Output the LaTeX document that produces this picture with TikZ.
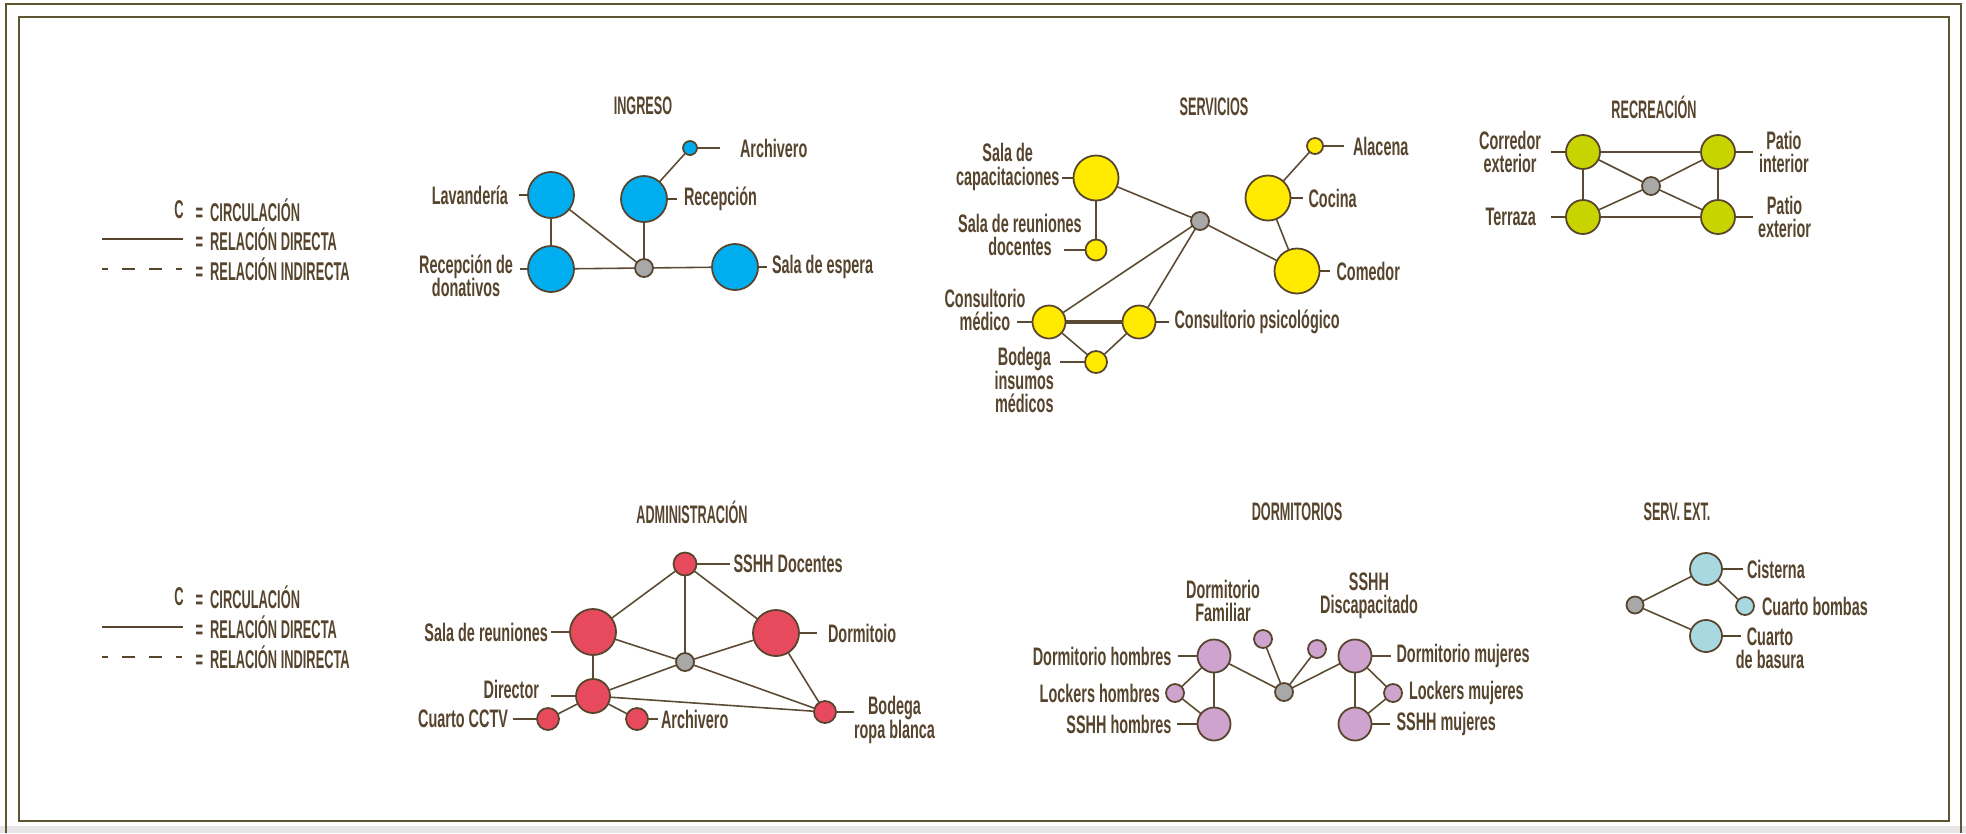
\documentclass[tikz,border=0pt]{standalone}
\usepackage{fontspec}
\setmainfont{Liberation Sans}[FakeStretch=0.57]
\newfontfamily\capsfont{Liberation Sans}[FakeStretch=0.5]
\usetikzlibrary{positioning}

\definecolor{frameol}{RGB}{94,86,50}
\definecolor{txt}{RGB}{86,68,45}
\definecolor{edgec}{RGB}{92,75,52}
\definecolor{bandgray}{RGB}{230,230,230}
\definecolor{ingblue}{RGB}{0,174,239}
\definecolor{srvyel}{RGB}{255,234,0}
\definecolor{recgrn}{RGB}{200,211,0}
\definecolor{admred}{RGB}{230,74,92}
\definecolor{dorlil}{RGB}{206,163,205}
\definecolor{extblu}{RGB}{168,216,224}
\definecolor{hubgray}{RGB}{168,168,168}

\newcommand\lblsize{\bfseries\fontsize{7.2}{6.6}\selectfont\setlength{\lineskiplimit}{-5pt}}

\tikzset{
  room/.style={circle, draw=txt, line width=0.5pt, inner sep=0pt, outer sep=0pt},
  ing/.style={room, fill=ingblue, minimum size=#1},
  srv/.style={room, fill=srvyel, minimum size=#1},
  rec/.style={room, fill=recgrn, minimum size=#1},
  adm/.style={room, fill=admred, minimum size=#1},
  dor/.style={room, fill=dorlil, minimum size=#1},
  ext/.style={room, fill=extblu, minimum size=#1},
  hub/.style={room, fill=hubgray, minimum size=1.8mm},
  rel/.style={draw=edgec, line width=0.45pt},
  tick/.style={draw=txt, line width=0.8pt},
  thintick/.style={draw=edgec, line width=0.45pt},
  lbl/.style={text=txt, inner sep=0pt, outer sep=0.7mm, align=center, font=\lblsize},
  ttl/.style={text=txt, inner sep=0pt, font=\capsfont\bfseries\fontsize{7.2}{8}\selectfont},
  leg/.style={text=txt, inner sep=0pt, font=\capsfont\bfseries\fontsize{7.3}{8}\selectfont},
  legline/.style={draw=txt, line width=0.6pt},
  legdash/.style={legline, dash pattern=on 0.6mm off 1.4mm on 1.3mm off 1.4mm on 1.3mm off 1.4mm on 0.6mm},
  frame/.style={draw=frameol, line width=0.6pt}
}

\begin{document}
\begin{tikzpicture}[x=0.01cm, y=-0.01cm]
\useasboundingbox (0,0) rectangle (1966,833);
% marco
\fill[white] (0,0) rectangle (1966,833);
\fill[bandgray] (0,826) rectangle (1966,833);
\draw[frame] (6,833) -- (6,4) -- (1961,4) -- (1961,833);
\draw[frame] (19,17) rectangle (1949,821);

% leyendas
\node[leg] (c1) at (179,210) {C};
\node[leg, anchor=west] (c1t) at (195,210) {=\kern2pt CIRCULACIÓN};
\draw[legline] (102,239) -- (183,239);
\node[leg, anchor=west] (d1t) at (195,239) {=\kern2pt RELACIÓN DIRECTA};
\draw[legdash] (102,269) -- (183,269);
\node[leg, anchor=west] (i1t) at (195,269) {=\kern2pt RELACIÓN INDIRECTA};

\node[leg] (c2) at (179,597) {C};
\node[leg, anchor=west] (c2t) at (195,597) {=\kern2pt CIRCULACIÓN};
\draw[legline] (102,627) -- (183,627);
\node[leg, anchor=west] (d2t) at (195,627) {=\kern2pt RELACIÓN DIRECTA};
\draw[legdash] (102,657) -- (183,657);
\node[leg, anchor=west] (i2t) at (195,657) {=\kern2pt RELACIÓN INDIRECTA};

% INGRESO
\node[ttl] (t_ing) at (643,106) {INGRESO};
\node[ing=4.6mm] (ing_lav) at (551,195) {};
\node[ing=4.6mm] (ing_rec) at (644,199) {};
\node[ing=1.4mm] (ing_arc) at (690,148) {};
\node[ing=4.6mm] (ing_don) at (551,269) {};
\node[hub] (ing_c) at (644,268) {};
\node[ing=4.6mm] (ing_esp) at (735,267) {};

\node[lbl, outer sep=1.1mm, left=0.9mm of ing_lav] (ing_lavl) {Lavandería};
\node[lbl, right=1mm of ing_rec] (ing_recl) {Recepción};
\node[lbl, outer sep=2mm, right=2.3mm of ing_arc] (ing_arcl) {Archivero};
\node[lbl, left=0.8mm of ing_don, yshift=-0.7mm] (ing_donl) {Recepción de\\donativos};
\node[lbl, outer sep=0.5mm, right=0.9mm of ing_esp] (ing_espl) {Sala de espera};

\draw[tick] (ing_lav) -- (ing_lav -| ing_lavl.east);
\draw[tick] (ing_rec) -- (ing_rec -| ing_recl.west);
\draw[thintick] (ing_arc) -- (ing_arc -| ing_arcl.west);
\draw[thintick] (ing_don) -- (ing_don -| ing_donl.east);
\draw[tick] (ing_esp) -- (ing_esp -| ing_espl.west);

\draw[rel] (ing_lav) -- (ing_don);
\draw[rel] (ing_lav) -- (ing_c);
\draw[rel] (ing_don) -- (ing_c);
\draw[rel] (ing_c) -- (ing_esp);
\draw[rel] (ing_rec) -- (ing_c);
\draw[rel] (ing_rec) -- (ing_arc);

% SERVICIOS
\node[ttl] (t_srv) at (1214,107) {SERVICIOS};
\node[srv=4.5mm] (srv_cap) at (1096,178) {};
\node[srv=2.1mm] (srv_reu) at (1096,250) {};
\node[hub] (srv_c) at (1200,221) {};
\node[srv=1.6mm] (srv_ala) at (1315,146) {};
\node[srv=4.5mm] (srv_coc) at (1268,198) {};
\node[srv=4.5mm] (srv_com) at (1297,271) {};
\node[srv=3.3mm] (srv_med) at (1049,322) {};
\node[srv=3.3mm] (srv_psi) at (1139,322) {};
\node[srv=2.2mm] (srv_bod) at (1096,362) {};

\node[lbl, outer sep=0.3mm, left=1.1mm of srv_cap, yshift=1.1mm] (srv_capl) {Sala de\\capacitaciones};
\coordinate[left=2.1mm of srv_reu] (srv_reut);
\node[lbl] (srv_reul) at (1020,235) {Sala de reuniones\\docentes};
\node[lbl, outer sep=0.9mm, right=2.1mm of srv_ala] (srv_alal) {Alacena};
\node[lbl, outer sep=0.6mm, right=1.2mm of srv_coc] (srv_cocl) {Cocina};
\node[lbl, right=1mm of srv_com] (srv_coml) {Comedor};
\coordinate[left=1.5mm of srv_med] (srv_medt);
\node[lbl] (srv_medl) at (985,310) {Consultorio\\médico};
\node[lbl, outer sep=0.6mm, right=1.3mm of srv_psi] (srv_psil) {Consultorio psicológico};
\node[lbl, outer sep=0.6mm, left=2.5mm of srv_bod, yshift=-1.8mm] (srv_bodl) {Bodega\\insumos\\médicos};

\draw[tick] (srv_cap) -- (srv_cap -| srv_capl.east);
\draw[thintick] (srv_reu) -- (srv_reut);
\draw[thintick] (srv_ala) -- (srv_ala -| srv_alal.west);
\draw[tick] (srv_coc) -- (srv_coc -| srv_cocl.west);
\draw[tick] (srv_com) -- (srv_com -| srv_coml.west);
\draw[thintick] (srv_med) -- (srv_medt);
\draw[tick] (srv_psi) -- (srv_psi -| srv_psil.west);
\draw[thintick] (srv_bod) -- (srv_bod -| srv_bodl.east);

\draw[rel] (srv_cap) -- (srv_reu);
\draw[rel] (srv_cap) -- (srv_c);
\draw[rel] (srv_c) -- (srv_com);
\draw[rel] (srv_coc) -- (srv_com);
\draw[rel] (srv_coc) -- (srv_ala);
\draw[rel] (srv_c) -- (srv_med);
\draw[rel] (srv_c) -- (srv_psi);
\draw[rel, line width=1.1pt] (srv_med) -- (srv_psi);
\draw[rel] (srv_med) -- (srv_bod);
\draw[rel] (srv_psi) -- (srv_bod);

% RECREACION
\node[ttl] (t_rec) at (1654,107) {RECREACIÓN};
\node[rec=3.4mm] (rec_cor) at (1583,152) {};
\node[rec=3.4mm] (rec_pin) at (1718,152) {};
\node[rec=3.4mm] (rec_ter) at (1583,217) {};
\node[rec=3.4mm] (rec_pex) at (1718,217) {};
\node[hub] (rec_c) at (1651,186) {};

\node[lbl, outer sep=1mm, left=1.5mm of rec_cor] (rec_corl) {Corredor\\exterior};
\node[lbl, outer sep=1.5mm, left=1.5mm of rec_ter] (rec_terl) {Terraza};
\node[lbl, outer sep=0.6mm, right=1.8mm of rec_pin] (rec_pinl) {Patio\\interior};
\node[lbl, outer sep=0.5mm, right=1.8mm of rec_pex] (rec_pexl) {Patio\\exterior};

\draw[tick] (rec_cor) -- (rec_cor -| rec_corl.east);
\draw[tick] (rec_ter) -- (rec_ter -| rec_terl.east);
\draw[tick] (rec_pin) -- (rec_pin -| rec_pinl.west);
\draw[tick] (rec_pex) -- (rec_pex -| rec_pexl.west);

\draw[rel] (rec_cor) -- (rec_pin);
\draw[rel] (rec_cor) -- (rec_ter);
\draw[rel] (rec_ter) -- (rec_pex);
\draw[rel] (rec_pin) -- (rec_pex);
\draw[rel] (rec_c) -- (rec_cor);
\draw[rel] (rec_c) -- (rec_pin);
\draw[rel] (rec_c) -- (rec_ter);
\draw[rel] (rec_c) -- (rec_pex);

% ADMINISTRACION
\node[ttl] (t_adm) at (692,512) {ADMINISTRACIÓN};
\node[adm=2.3mm] (adm_ssh) at (685,564) {};
\node[adm=4.6mm] (adm_reu) at (593,632) {};
\node[adm=4.6mm] (adm_dor) at (776,633) {};
\node[hub] (adm_c) at (685,662) {};
\node[adm=3.4mm] (adm_dir) at (593,696) {};
\node[adm=2.2mm] (adm_ctv) at (548,719) {};
\node[adm=2.2mm] (adm_arc) at (637,719) {};
\node[adm=2.2mm] (adm_bod) at (825,712) {};

\node[lbl, outer sep=0.4mm, right=3.3mm of adm_ssh] (adm_sshl) {SSHH Docentes};
\node[lbl, outer sep=0.3mm, left=1.9mm of adm_reu] (adm_reul) {Sala de reuniones};
\node[lbl, outer sep=1.1mm, right=1.8mm of adm_dor] (adm_dorl) {Dormitoio};
\node[lbl, outer sep=1.2mm, left=2.5mm of adm_dir, yshift=0.7mm] (adm_dirl) {Director};
\node[lbl, outer sep=0.5mm, left=2.4mm of adm_ctv] (adm_ctvl) {Cuarto CCTV};
\node[lbl, outer sep=0.3mm, right=1mm of adm_arc] (adm_arcl) {Archivero};
\node[lbl, outer sep=0mm, right=1.8mm of adm_bod, yshift=-0.8mm] (adm_bodl) {Bodega\\ropa blanca};

\draw[thintick] (adm_ssh) -- (adm_ssh -| adm_sshl.west);
\draw[thintick] (adm_reu) -- (adm_reu -| adm_reul.east);
\draw[thintick] (adm_dor) -- (adm_dor -| adm_dorl.west);
\draw[thintick] (adm_dir) -- (adm_dir -| adm_dirl.east);
\draw[thintick] (adm_ctv) -- (adm_ctv -| adm_ctvl.east);
\draw[thintick] (adm_arc) -- (adm_arc -| adm_arcl.west);
\draw[thintick] (adm_bod) -- (adm_bod -| adm_bodl.west);

\draw[rel] (adm_ssh) -- (adm_reu);
\draw[rel] (adm_ssh) -- (adm_dor);
\draw[rel] (adm_ssh) -- (adm_c);
\draw[rel] (adm_reu) -- (adm_c);
\draw[rel] (adm_dor) -- (adm_c);
\draw[rel] (adm_reu) -- (adm_dir);
\draw[rel] (adm_c) -- (adm_dir);
\draw[rel] (adm_c) -- (adm_bod);
\draw[rel] (adm_dor) -- (adm_bod);
\draw[rel] (adm_dir) -- (adm_bod);
\draw[rel] (adm_dir) -- (adm_ctv);
\draw[rel] (adm_dir) -- (adm_arc);

% DORMITORIOS
\node[ttl] (t_dor) at (1297,512) {DORMITORIOS};
\node[dor=3.3mm] (dor_dh) at (1214,656) {};
\node[dor=1.8mm] (dor_lh) at (1175,693) {};
\node[dor=3.3mm] (dor_sh) at (1214,724) {};
\node[dor=1.8mm] (dor_fam) at (1263,639) {};
\node[dor=1.8mm] (dor_dis) at (1317,649) {};
\node[hub] (dor_c) at (1284,692) {};
\node[dor=3.3mm] (dor_dm) at (1355,656) {};
\node[dor=1.8mm] (dor_lm) at (1393,693) {};
\node[dor=3.3mm] (dor_sm) at (1355,724) {};

\node[lbl, left=1.9mm of dor_dh] (dor_dhl) {Dormitorio hombres};
\node[lbl, outer sep=0.6mm, left=0mm of dor_lh] (dor_lhl) {Lockers hombres};
\node[lbl, outer sep=0.6mm, left=2mm of dor_sh] (dor_shl) {SSHH hombres};
\node[lbl] (dor_faml) at (1223,601) {Dormitorio\\Familiar};
\node[lbl] (dor_disl) at (1369,596) {SSHH\\Discapacitado};
\node[lbl, outer sep=0.6mm, right=1.9mm of dor_dm] (dor_dml) {Dormitorio mujeres};
\node[lbl, right=0mm of dor_lm] (dor_lml) {Lockers mujeres};
\node[lbl, right=1.8mm of dor_sm] (dor_sml) {SSHH mujeres};

\draw[thintick] (dor_dh) -- (dor_dh -| dor_dhl.east);
\draw[tick] (dor_sh) -- (dor_sh -| dor_shl.east);
\draw[thintick] (dor_dm) -- (dor_dm -| dor_dml.west);
\draw[tick] (dor_sm) -- (dor_sm -| dor_sml.west);

\draw[rel] (dor_dh) -- (dor_lh);
\draw[rel] (dor_lh) -- (dor_sh);
\draw[rel] (dor_dh) -- (dor_sh);
\draw[rel] (dor_dh) -- (dor_c);
\draw[rel] (dor_c) -- (dor_fam);
\draw[rel] (dor_c) -- (dor_dis);
\draw[rel] (dor_c) -- (dor_dm);
\draw[rel] (dor_dm) -- (dor_lm);
\draw[rel] (dor_lm) -- (dor_sm);
\draw[rel] (dor_dm) -- (dor_sm);

% SERV. EXT.
\node[ttl] (t_ext) at (1677,512) {SERV. EXT.};
\node[hub, minimum size=1.7mm] (ext_c) at (1635,605) {};
\node[ext=3.2mm] (ext_cis) at (1706,569) {};
\node[ext=1.8mm] (ext_bom) at (1745,606) {};
\node[ext=3.2mm] (ext_bas) at (1706,636) {};

\node[lbl, outer sep=0.4mm, right=2.1mm of ext_cis] (ext_cisl) {Cisterna};
\node[lbl, outer sep=0.8mm, right=0mm of ext_bom] (ext_boml) {Cuarto bombas};
\coordinate[right=1.9mm of ext_bas] (ext_bast);
\node[lbl] (ext_basl) at (1770,648) {Cuarto\\de basura};

\draw[tick] (ext_cis) -- (ext_cis -| ext_cisl.west);
\draw[tick] (ext_bas) -- (ext_bast);

\draw[rel] (ext_c) -- (ext_cis);
\draw[rel] (ext_c) -- (ext_bas);
\draw[rel] (ext_cis) -- (ext_bom);
\end{tikzpicture}
\end{document}
